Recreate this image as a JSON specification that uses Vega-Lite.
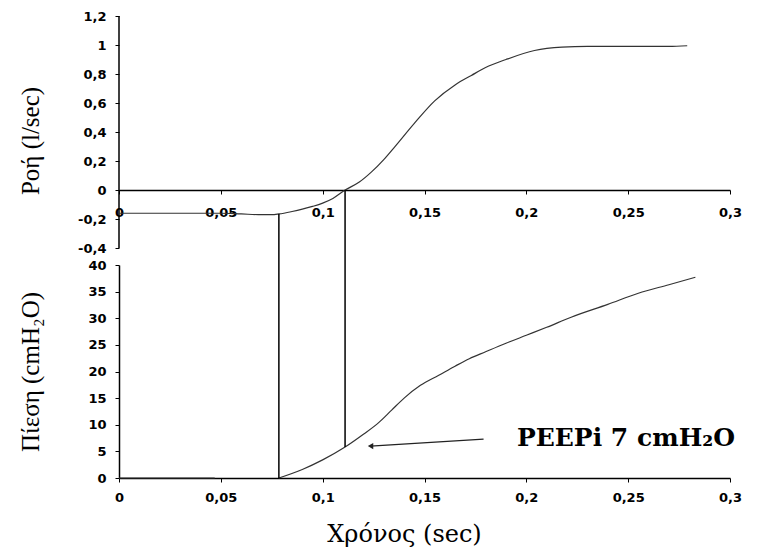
{
  "$schema": "https://vega.github.io/schema/vega-lite/v6.json",
  "padding": {"left": 18, "top": 10, "right": 5, "bottom": 2},
  "background": "white",
  "config": {
    "view": {"stroke": null},
    "axis": {
      "grid": false,
      "domainColor": "black",
      "domainWidth": 1.5,
      "tickColor": "black",
      "tickSize": 4,
      "labelColor": "black",
      "labelFont": "DejaVu Sans",
      "labelFontWeight": "bold",
      "labelFontSize": 13,
      "titleColor": "black",
      "titleFont": "Liberation Serif",
      "titleFontWeight": "normal",
      "titleFontSize": 25
    }
  },
  "datasets": {
    "flow": [
      {"t": 0, "f": -0.16}, {"t": 0.02, "f": -0.16}, {"t": 0.05, "f": -0.16},
      {"t": 0.06, "f": -0.165}, {"t": 0.07, "f": -0.17}, {"t": 0.075, "f": -0.17},
      {"t": 0.0785, "f": -0.165}, {"t": 0.085, "f": -0.148}, {"t": 0.09, "f": -0.132},
      {"t": 0.095, "f": -0.113}, {"t": 0.1, "f": -0.09}, {"t": 0.105, "f": -0.058},
      {"t": 0.111, "f": 0}, {"t": 0.118, "f": 0.055}, {"t": 0.124, "f": 0.125},
      {"t": 0.13, "f": 0.21}, {"t": 0.1355, "f": 0.3}, {"t": 0.145, "f": 0.46},
      {"t": 0.155, "f": 0.615}, {"t": 0.165, "f": 0.725}, {"t": 0.173, "f": 0.79},
      {"t": 0.18, "f": 0.845}, {"t": 0.19, "f": 0.9}, {"t": 0.204, "f": 0.962},
      {"t": 0.2175, "f": 0.985}, {"t": 0.23, "f": 0.99}, {"t": 0.25, "f": 0.99},
      {"t": 0.27, "f": 0.99}, {"t": 0.279, "f": 0.995}
    ],
    "flowAxis": [{"t": 0, "f": -0.4, "f2": 1.2}],
    "flowRules": [
      {"t": 0.0785, "f": -0.165, "f2": -0.517},
      {"t": 0.111, "f": 0, "f2": -0.517}
    ],
    "pressure": [
      {"t": 0, "p": 0, "seg": "a"}, {"t": 0.047, "p": 0, "seg": "a"},
      {"t": 0.0785, "p": 0, "seg": "b"}, {"t": 0.09, "p": 1.6, "seg": "b"},
      {"t": 0.1, "p": 3.4, "seg": "b"}, {"t": 0.111, "p": 5.8, "seg": "b"},
      {"t": 0.12, "p": 8.2, "seg": "b"}, {"t": 0.1275, "p": 10.4, "seg": "b"},
      {"t": 0.134, "p": 12.8, "seg": "b"}, {"t": 0.14, "p": 15.0, "seg": "b"},
      {"t": 0.148, "p": 17.4, "seg": "b"}, {"t": 0.157, "p": 19.3, "seg": "b"},
      {"t": 0.165, "p": 21.0, "seg": "b"}, {"t": 0.172, "p": 22.4, "seg": "b"},
      {"t": 0.18, "p": 23.7, "seg": "b"}, {"t": 0.19, "p": 25.3, "seg": "b"},
      {"t": 0.2, "p": 26.8, "seg": "b"}, {"t": 0.21, "p": 28.3, "seg": "b"},
      {"t": 0.222, "p": 30.2, "seg": "b"}, {"t": 0.24, "p": 32.6, "seg": "b"},
      {"t": 0.255, "p": 34.7, "seg": "b"}, {"t": 0.27, "p": 36.3, "seg": "b"},
      {"t": 0.283, "p": 37.7, "seg": "b"}
    ],
    "pressureRules": [
      {"t": 0.0785, "p": 0, "p2": 40},
      {"t": 0.111, "p": 5.8, "p2": 40}
    ],
    "arrow": [{"t": 0.179, "p": 7.3, "t2": 0.1235, "p2": 6.0}],
    "arrowHead": [{"t": 0.1235, "p": 6.0}],
    "note": [{"t": 0.1954, "p": 7.6, "label": "PEEPi 7 cmH₂O"}]
  },
  "vconcat": [
    {
      "width": 611,
      "height": 249,
      "encoding": {
        "x": {
          "field": "t", "type": "quantitative",
          "scale": {"domain": [0, 0.3], "nice": false, "zero": false},
          "axis": {
            "values": [0, 0.05, 0.1, 0.15, 0.2, 0.25, 0.3],
            "format": "~g",
            "labelExpr": "replace(datum.label, '.', ',')",
            "labelFlush": false,
            "offset": -75,
            "labelPadding": 12,
            "title": null
          }
        },
        "y": {
          "field": "f", "type": "quantitative",
          "scale": {"domain": [-0.517, 1.2], "nice": false, "zero": false},
          "axis": {
            "values": [-0.4, -0.2, 0, 0.2, 0.4, 0.6, 0.8, 1, 1.2],
            "format": "~g",
            "labelExpr": "replace(replace(datum.label, '.', ','), '−', '-')",
            "domain": false,
            "labelPadding": 9,
            "minExtent": 50,
            "maxExtent": 50,
            "titlePadding": 26,
            "title": "Ροή (l/sec)"
          }
        }
      },
      "layer": [
        {
          "data": {"name": "flowAxis"},
          "mark": {"type": "rule", "color": "black", "strokeWidth": 1.5},
          "encoding": {"y2": {"field": "f2"}}
        },
        {
          "data": {"name": "flow"},
          "mark": {"type": "line", "color": "#333333", "strokeWidth": 1.2, "interpolate": "monotone"}
        },
        {
          "data": {"name": "flowRules"},
          "mark": {"type": "rule", "color": "black", "strokeWidth": 1.5},
          "encoding": {"y2": {"field": "f2"}}
        }
      ]
    },
    {
      "width": 611,
      "height": 213,
      "encoding": {
        "x": {
          "field": "t", "type": "quantitative",
          "scale": {"domain": [0, 0.3], "nice": false, "zero": false},
          "axis": {
            "values": [0, 0.05, 0.1, 0.15, 0.2, 0.25, 0.3],
            "format": "~g",
            "labelExpr": "replace(datum.label, '.', ',')",
            "labelFlush": false,
            "labelPadding": 9,
            "title": "Χρόνος (sec)",
            "titleFont": "DejaVu Serif",
            "titleFontSize": 24,
            "titlePadding": 18,
            "titleX": 285
          }
        },
        "y": {
          "field": "p", "type": "quantitative",
          "scale": {"domain": [0, 40], "nice": false},
          "axis": {
            "values": [0, 5, 10, 15, 20, 25, 30, 35, 40],
            "labelPadding": 9,
            "minExtent": 50,
            "maxExtent": 50,
            "titlePadding": 26,
            "title": "Πίεση (cmH₂O)"
          }
        }
      },
      "layer": [
        {
          "data": {"name": "pressure"},
          "mark": {"type": "line", "color": "#333333", "strokeWidth": 1.2, "interpolate": "monotone"},
          "encoding": {"detail": {"field": "seg"}}
        },
        {
          "data": {"name": "pressureRules"},
          "mark": {"type": "rule", "color": "black", "strokeWidth": 1.5},
          "encoding": {"y2": {"field": "p2"}}
        },
        {
          "data": {"name": "arrow"},
          "mark": {"type": "rule", "color": "#222222", "strokeWidth": 1.3},
          "encoding": {"x2": {"field": "t2"}, "y2": {"field": "p2"}}
        },
        {
          "data": {"name": "arrowHead"},
          "mark": {"type": "point", "shape": "triangle-left", "filled": true, "color": "#222222", "size": 40, "opacity": 1}
        },
        {
          "data": {"name": "note"},
          "mark": {"type": "text", "align": "left", "baseline": "middle", "font": "DejaVu Serif", "fontWeight": "bold", "fontSize": 25, "color": "black"},
          "encoding": {"text": {"field": "label"}}
        }
      ]
    }
  ],
  "spacing": 0,
  "bounds": "flush"
}
